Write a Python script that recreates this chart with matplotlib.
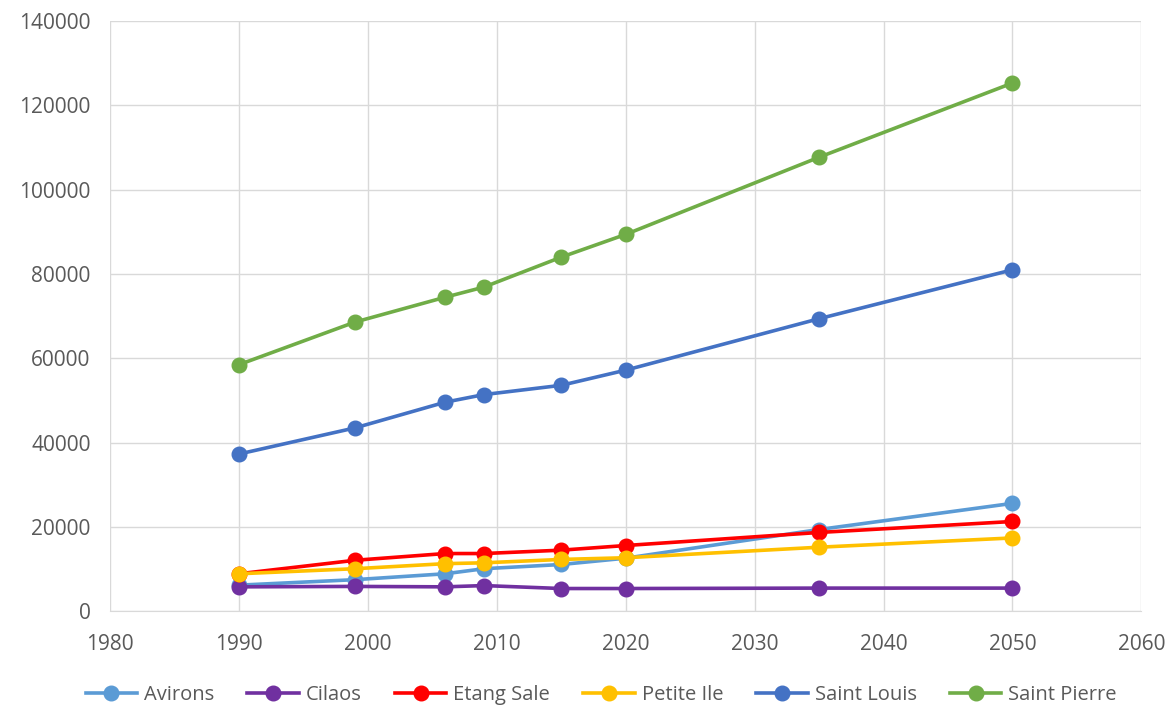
import matplotlib
matplotlib.use("Agg")
import matplotlib.pyplot as plt

years = [1990, 1999, 2006, 2009, 2015, 2020, 2035, 2050]
avirons = [6200, 7500, 8900, 10100, 11100, 12600, 19400, 25600]
cilaos = [5800, 5900, 5800, 6100, 5400, 5400, 5500, 5500]
etang_sale = [8900, 12100, 13700, 13700, 14500, 15600, 18700, 21300]
petite_ile = [8900, 10100, 11300, 11500, 12300, 12700, 15200, 17400]
saint_louis = [37300, 43500, 49600, 51400, 53600, 57200, 69400, 81000]
saint_pierre = [58500, 68600, 74500, 76900, 84000, 89400, 107700, 125300]

series_names = ["Avirons", "Cilaos", "Etang Sale", "Petite Ile", "Saint Louis", "Saint Pierre"]
series_values = [avirons, cilaos, etang_sale, petite_ile, saint_louis, saint_pierre]
colors = ["#5B9BD5", "#7030A0", "#FF0000", "#FFC000", "#4472C4", "#70AD47"]

plt.rcParams['font.family'] = ['Open Sans', 'DejaVu Sans']

fig = plt.figure(figsize=(11.72, 7.26), dpi=100)
ax = fig.add_axes([0.0939, 0.158, 0.880, 0.813])

for name, vals, c in zip(series_names, series_values, colors):
    ax.plot(years, vals, color=c, linewidth=2.6, marker='o', markersize=10.5,
            markeredgecolor=c, markerfacecolor=c, label=name, zorder=3)

ax.set_xlim(1980, 2060)
ax.set_ylim(0, 140000)
ax.set_xticks(range(1980, 2061, 10))
ax.set_yticks(range(0, 140001, 20000))
ax.grid(True, color="#D9D9D9", linewidth=1)
ax.set_axisbelow(True)
for s in ["left", "right", "top"]:
    ax.spines[s].set_visible(False)
ax.spines["bottom"].set_color("#D9D9D9")
ax.tick_params(axis='both', length=0, labelsize=15, colors="#595959")
ax.tick_params(axis='y', pad=14)
ax.tick_params(axis='x', pad=16)

fig.legend(*ax.get_legend_handles_labels(), loc='center',
           bbox_to_anchor=(0.513, 1 - 695 / 726), ncol=6, frameon=False,
           fontsize=14.5, handlelength=2.55, columnspacing=1.65, handletextpad=0.35,
           labelcolor="#595959")

fig.savefig("out.png", dpi=100)
